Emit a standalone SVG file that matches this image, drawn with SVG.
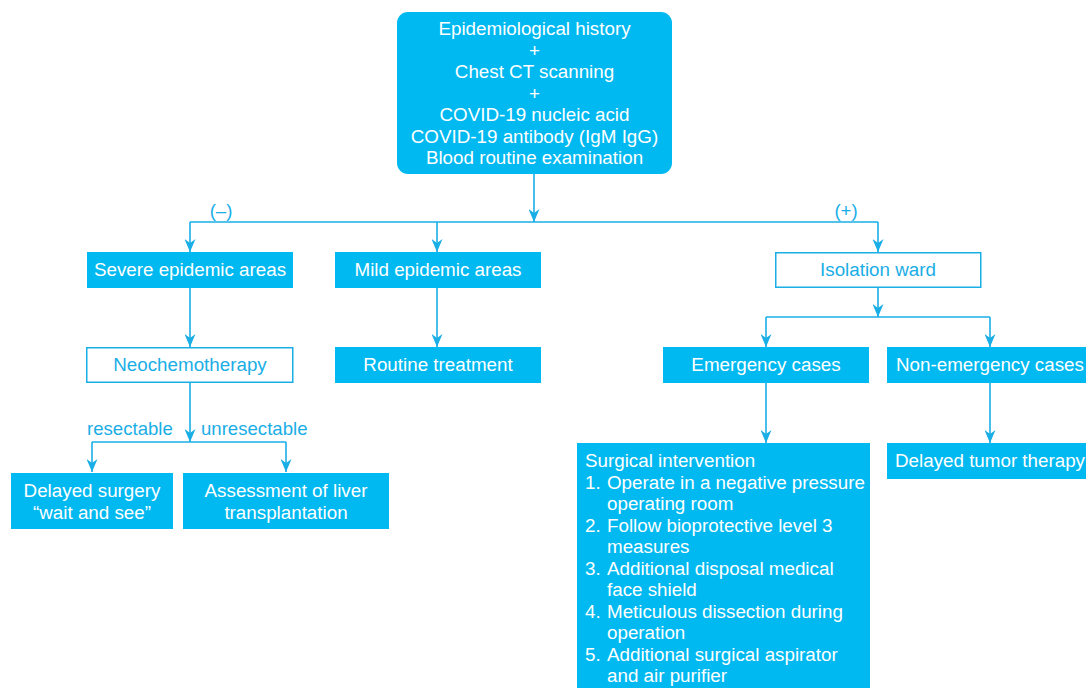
<svg xmlns="http://www.w3.org/2000/svg" width="1086" height="688" viewBox="0 0 1086 688">
<defs>
<marker id="ah" viewBox="0 0 13 11" refX="13" refY="5.5" markerWidth="13" markerHeight="11" markerUnits="userSpaceOnUse" orient="auto">
<path d="M0,0 L13,5.5 L0,11 L4,5.5 z" fill="#1aaee6"/>
</marker>
<style>
.fill{fill:#00b9f1;}
.out{fill:#ffffff;stroke:#1aaee6;stroke-width:1.5;}
.wt{fill:#ffffff;font-family:"Liberation Sans",Arial,sans-serif;font-size:18.8px;}
.bt{fill:#1aaee6;font-family:"Liberation Sans",Arial,sans-serif;font-size:18.8px;}
.lb{fill:#1aaee6;font-family:"Liberation Sans",Arial,sans-serif;font-size:18.6px;}
.c{text-anchor:middle;}
.ln{fill:none;stroke:#1aaee6;stroke-width:1.6;}
.ar{fill:none;stroke:#1aaee6;stroke-width:1.6;marker-end:url(#ah);}
</style>
</defs>
<rect width="1086" height="688" fill="#ffffff"/>
<g id="connectors">
<line class="ar" x1="534" y1="174" x2="534" y2="222"/>
<line class="ln" x1="190" y1="222" x2="878" y2="222"/>
<line class="ar" x1="190" y1="222" x2="190" y2="252"/>
<line class="ar" x1="437" y1="222" x2="437" y2="252"/>
<line class="ar" x1="878" y1="222" x2="878" y2="252"/>
<line class="ar" x1="190" y1="288" x2="190" y2="347"/>
<line class="ar" x1="437" y1="288" x2="437" y2="347"/>
<line class="ar" x1="190" y1="383" x2="190" y2="442"/>
<line class="ln" x1="92" y1="442" x2="286" y2="442"/>
<line class="ar" x1="92" y1="442" x2="92" y2="472"/>
<line class="ar" x1="286" y1="442" x2="286" y2="472"/>
<line class="ar" x1="878" y1="287" x2="878" y2="317"/>
<line class="ln" x1="766" y1="317" x2="990" y2="317"/>
<line class="ar" x1="766" y1="317" x2="766" y2="347"/>
<line class="ar" x1="990" y1="317" x2="990" y2="347"/>
<line class="ar" x1="766" y1="383" x2="766" y2="443"/>
<line class="ar" x1="990" y1="383" x2="990" y2="443"/>
<text class="lb c" x="221" y="217">(–)</text>
<text class="lb c" x="846" y="217">(+)</text>
<text class="lb" x="87" y="435">resectable</text>
<text class="lb" x="201" y="435">unresectable</text>
</g>
<g id="top">
<rect class="fill" x="397" y="12" width="275" height="162" rx="11"/>
<text class="wt c" x="534.5" y="35">Epidemiological history</text>
<text class="wt c" x="534.5" y="56.5">+</text>
<text class="wt c" x="534.5" y="78">Chest CT scanning</text>
<text class="wt c" x="534.5" y="99.5">+</text>
<text class="wt c" x="534.5" y="121">COVID-19 nucleic acid</text>
<text class="wt c" x="534.5" y="142.5">COVID-19 antibody (IgM IgG)</text>
<text class="wt c" x="534.5" y="164">Blood routine examination</text>
</g>
<g id="severe">
<rect class="fill" x="87" y="252" width="206" height="36"/>
<text class="wt c" x="190" y="276">Severe epidemic areas</text>
</g>
<g id="mild">
<rect class="fill" x="335" y="252" width="206" height="36"/>
<text class="wt c" x="438" y="276">Mild epidemic areas</text>
</g>
<g id="isolation">
<rect class="out" x="775.75" y="252.75" width="205" height="34.5"/>
<text class="bt c" x="878" y="276">Isolation ward</text>
</g>
<g id="neochemo">
<rect class="out" x="86.75" y="347.75" width="206" height="34.5"/>
<text class="bt c" x="190" y="371">Neochemotherapy</text>
</g>
<g id="routine">
<rect class="fill" x="335" y="347" width="206" height="36"/>
<text class="wt c" x="438" y="371">Routine treatment</text>
</g>
<g id="emergency">
<rect class="fill" x="663" y="347" width="206" height="36"/>
<text class="wt c" x="766" y="371">Emergency cases</text>
</g>
<g id="nonemergency">
<rect class="fill" x="887" y="347" width="199" height="36"/>
<text class="wt" x="896" y="371">Non-emergency cases</text>
</g>
<g id="delayed-surgery">
<rect class="fill" x="11" y="473" width="162" height="56"/>
<text class="wt c" x="92" y="497">Delayed surgery</text>
<text class="wt c" x="92" y="519">“wait and see”</text>
</g>
<g id="liver">
<rect class="fill" x="183" y="473" width="206" height="56"/>
<text class="wt c" x="286" y="497">Assessment of liver</text>
<text class="wt c" x="286" y="519">transplantation</text>
</g>
<g id="surgical">
<rect class="fill" x="577" y="443" width="293" height="245"/>
<text class="wt" x="585" y="467">Surgical intervention</text>
<text class="wt" x="585" y="488.5">1.</text><text class="wt" x="607" y="488.5">Operate in a negative pressure</text>
<text class="wt" x="607" y="510">operating room</text>
<text class="wt" x="585" y="531.5">2.</text><text class="wt" x="607" y="531.5">Follow bioprotective level 3</text>
<text class="wt" x="607" y="553">measures</text>
<text class="wt" x="585" y="574.5">3.</text><text class="wt" x="607" y="574.5">Additional disposal medical</text>
<text class="wt" x="607" y="596">face shield</text>
<text class="wt" x="585" y="617.5">4.</text><text class="wt" x="607" y="617.5">Meticulous dissection during</text>
<text class="wt" x="607" y="639">operation</text>
<text class="wt" x="585" y="660.5">5.</text><text class="wt" x="607" y="660.5">Additional surgical aspirator</text>
<text class="wt" x="607" y="682">and air purifier</text>
</g>
<g id="tumor">
<rect class="fill" x="887" y="443" width="199" height="36"/>
<text class="wt" x="895" y="467">Delayed tumor therapy</text>
</g>
</svg>
